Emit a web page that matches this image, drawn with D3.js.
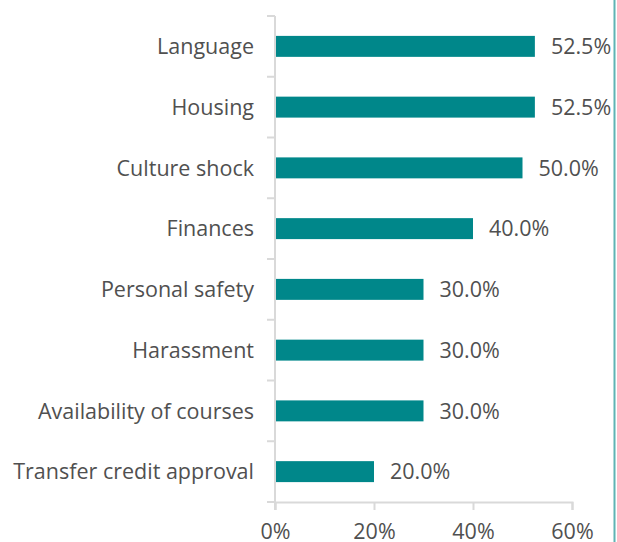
<!doctype html>
<html lang="en">
  <head>
    <title>Challenges</title>
    <style>
      body {
        margin: 0;
        background: #fff;
      }
      svg text {
        font-family: 'Open Sans', sans-serif;
        fill: #505050;
      }
    </style>
  </head>
  <body>
    <div id="chart"></div>
    <script src="https://cdn.jsdelivr.net/npm/d3@7"></script>
    <script>
      const categories = ['Language', 'Housing', 'Culture shock', 'Finances', 'Personal safety', 'Harassment', 'Availability of courses', 'Transfer credit approval']
      const values = [52.5, 52.5, 50.0, 40.0, 30.0, 30.0, 30.0, 20.0]
      const ticks = [0, 20, 40, 60]

      const width = 617
      const height = 542
      const margin = { top: 16, left: 275, bottom: 40 }
      const fontSize = 21.5

      const svg = d3.select('#chart')
        .append('svg')
        .attr('width', width)
        .attr('height', height)

      const x = d3.scaleLinear()
        .domain([0, 60])
        .range([margin.left, 572])

      const y = d3.scaleBand()
        .domain(categories)
        .range([margin.top, 502])
        .paddingInner(0.655)
        .paddingOuter(0.3275)

      const step = y.step()

      // bars
      svg.append('g').selectAll('rect')
        .data(categories)
        .enter()
        .append('rect')
          .attr('x', x(0) + 1)
          .attr('y', d => y(d))
          .attr('width', (d, i) => x(values[i]) - x(0) - 1)
          .attr('height', y.bandwidth())
          .attr('fill', '#00878a')

      // value labels
      svg.append('g').selectAll('text')
        .data(categories)
        .enter()
        .append('text')
          .attr('x', (d, i) => x(values[i]) + 16)
          .attr('y', d => y(d) + y.bandwidth() / 2)
          .attr('dy', '0.36em')
          .attr('font-size', fontSize)
          .text((d, i) => values[i].toFixed(1) + '%')

      // category labels
      svg.append('g').selectAll('text')
        .data(categories)
        .enter()
        .append('text')
          .attr('x', margin.left - 21)
          .attr('y', d => y(d) + y.bandwidth() / 2)
          .attr('dy', '0.36em')
          .attr('text-anchor', 'end')
          .attr('font-size', fontSize)
          .text(d => d)

      // y axis with band boundary ticks
      const axisColor = '#d9d9d9'
      svg.append('line')
        .attr('x1', x(0)).attr('x2', x(0))
        .attr('y1', margin.top).attr('y2', 510)
        .attr('stroke', axisColor).attr('stroke-width', 2)
      svg.append('g').selectAll('line')
        .data(d3.range(categories.length + 1))
        .enter()
        .append('line')
          .attr('x1', x(0) - 8).attr('x2', x(0))
          .attr('y1', i => margin.top + i * step)
          .attr('y2', i => margin.top + i * step)
          .attr('stroke', axisColor).attr('stroke-width', 2)

      // x axis
      const xAxis = svg.append('g')
        .attr('transform', `translate(0, 502)`)
        .call(d3.axisBottom(x).tickValues(ticks).tickSize(8).tickPadding(14).tickFormat(d => d + '%'))
      xAxis.select('.domain').attr('stroke', axisColor).attr('stroke-width', 2)
      xAxis.selectAll('.tick line').attr('stroke', axisColor).attr('stroke-width', 2)
      xAxis.selectAll('.tick text').attr('font-size', fontSize).attr('fill', '#505050')

      // right border line
      svg.append('line')
        .attr('x1', 614.5).attr('x2', 614.5)
        .attr('y1', 0).attr('y2', height)
        .attr('stroke', '#5fb4b4').attr('stroke-width', 2)
    </script>
  </body>
</html>
